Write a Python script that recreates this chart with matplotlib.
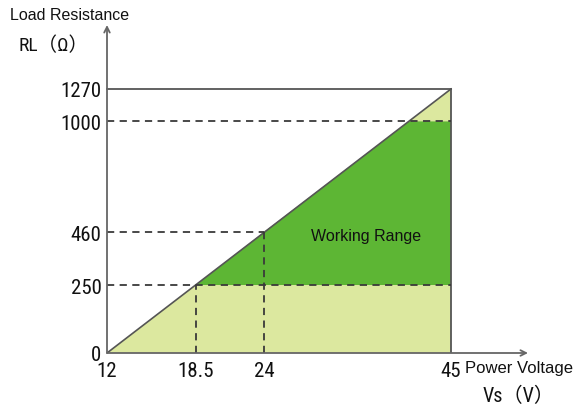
import matplotlib
matplotlib.use("Agg")
import matplotlib.pyplot as plt
import numpy as np

# values shown on the schematic axes
vs_values = [12, 18.5, 24, 45]
vs_labels = ["12", "18.5", "24", "45"]
rl_values = [0, 250, 460, 1000, 1270]
rl_labels = ["0", "250", "460", "1000", "1270"]

# schematic (non-linear) placement of those values, as fraction of the axis
vs_pos = [0.0, 0.2114, 0.3729, 0.8171]
rl_pos = [0.0, 0.2073, 0.3689, 0.706, 0.805]

LIGHT = "#dce89f"
DARK = "#5db634"
LINE = "#555555"
TXT = "#111111"
NARROW = ["Roboto Condensed", "Noto Sans CJK JP", "DejaVu Sans"]


def piecewise(vals, pos):
    """forward / inverse funcs of a piecewise linear scale, extrapolated at both ends"""
    vals = np.asarray(vals, float)
    pos = np.asarray(pos, float)

    def interp(v, a, b):
        v = np.asarray(v, float)
        out = np.interp(v, a, b)
        lo = (b[1] - b[0]) / (a[1] - a[0])
        hi = (b[-1] - b[-2]) / (a[-1] - a[-2])
        out = np.where(v < a[0], b[0] + (v - a[0]) * lo, out)
        out = np.where(v > a[-1], b[-1] + (v - a[-1]) * hi, out)
        return out

    return (lambda v: interp(v, vals, pos)), (lambda p: interp(p, pos, vals))


fwd_x, inv_x = piecewise(vs_values, vs_pos)
fwd_y, inv_y = piecewise(rl_values, rl_pos)

fig = plt.figure(figsize=(5.78, 4.10), dpi=100)
ax = fig.add_axes([107 / 578, 56 / 410, 421 / 578, 328 / 410])
ax.set_xscale("function", functions=(fwd_x, inv_x))
ax.set_yscale("function", functions=(fwd_y, inv_y))
ax.set_xlim(vs_values[0], float(inv_x(1.0)))
ax.set_ylim(rl_values[0], float(inv_y(1.0)))

v0, v1, v2, v3 = vs_values
r0, r1, r2, r3, r4 = rl_values

# where the diagonal meets 1000 (straight in display space)
t = fwd_y(r3) / fwd_y(r4)
v_cross = float(inv_x(t * fwd_x(v3)))

ax.fill([v0, v3, v3], [r0, r4, r0], color=LIGHT, lw=0, zorder=1)
ax.fill([v1, v2, v_cross, v3, v3], [r1, r2, r3, r3, r1], color=DARK, lw=0, zorder=2)

ax.plot([v0, v3], [r0, r4], color=LINE, lw=1.2, zorder=3)
ax.plot([v0, v3], [r4, r4], color=LINE, lw=1.3, zorder=3, clip_on=False)
ax.plot([v3, v3], [r0, r4], color=LINE, lw=1.3, zorder=3)

dash = dict(color="#3a3a3a", lw=1.3, ls=(0, (4, 3)), zorder=4, clip_on=False)
ax.plot([v0, v3], [r3, r3], **dash)
ax.plot([v0, v3], [r1, r1], **dash)
ax.plot([v0, v2], [r2, r2], **dash)
ax.plot([v1, v1], [r0, r1], **dash)
ax.plot([v2, v2], [r0, r2], **dash)

for s in ax.spines.values():
    s.set_visible(False)
arrow = dict(arrowstyle="->", color="#666666", lw=1.3, shrinkA=0, shrinkB=0)
ax.annotate("", xy=(1, 0), xytext=(0, 0), xycoords="axes fraction", arrowprops=arrow, zorder=5)
ax.annotate("", xy=(0, 1), xytext=(0, 0), xycoords="axes fraction", arrowprops=arrow, zorder=5)

ax.set_xticks(vs_values, vs_labels, family=NARROW, fontsize=15)
ax.set_yticks(rl_values, rl_labels, family=NARROW, fontsize=15)
ax.xaxis.set_minor_locator(matplotlib.ticker.NullLocator())
ax.yaxis.set_minor_locator(matplotlib.ticker.NullLocator())
ax.tick_params(length=0, colors=TXT)
ax.tick_params(axis="x", pad=6)
ax.tick_params(axis="y", pad=4)

ax.text(0.615, 0.357, "Working Range", transform=ax.transAxes, ha="center", va="center",
        family="Liberation Sans", fontsize=11.5, color=TXT, zorder=6)

fig.text(10 / 578, 1 - 15 / 410, "Load Resistance", family="Liberation Sans", fontsize=11.5,
         ha="left", va="center", color=TXT)
fig.text(18 / 578, 1 - 46 / 410, "RL（Ω）", family=NARROW, fontsize=14,
         ha="left", va="center", color=TXT)
fig.text(465 / 578, 1 - 369 / 410, "Power Voltage", family="Liberation Sans", fontsize=12,
         ha="left", va="center", color=TXT)
fig.text(483 / 578, 1 - 396 / 410, "Vs（V）", family=NARROW, fontsize=14.5,
         ha="left", va="center", color=TXT)

fig.savefig("out.png", dpi=100)
